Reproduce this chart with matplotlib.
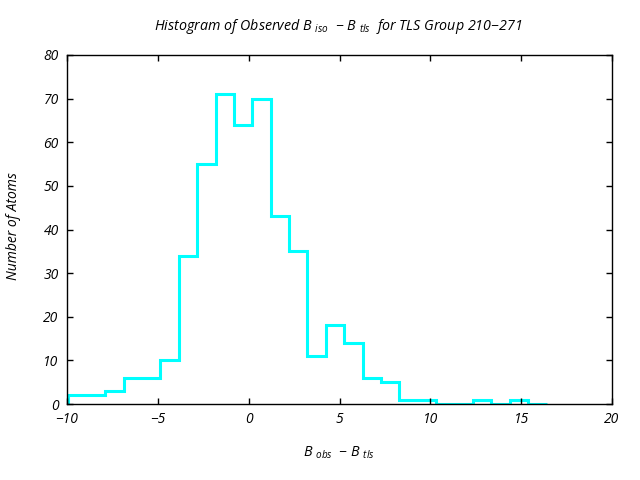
import matplotlib
matplotlib.use("Agg")
import matplotlib.pyplot as plt
import numpy as np

# Data
bin_start = -9.925
bin_width = 1.0125
counts = [2, 2, 3, 6, 6, 10, 34, 55, 71, 64, 70, 43, 35, 11, 18, 14, 6, 5, 1, 1, 0, 0, 1, 0, 1, 0]
edges = bin_start + bin_width * np.arange(len(counts) + 1)

xticks = [-10, -5, 0, 5, 10, 15, 20]
yticks = [0, 10, 20, 30, 40, 50, 60, 70, 80]

plt.rcParams['font.family'] = ['Open Sans', 'DejaVu Sans']
plt.rcParams['font.style'] = 'italic'
plt.rcParams['mathtext.fontset'] = 'custom'
plt.rcParams['mathtext.rm'] = 'Open Sans:italic'
plt.rcParams['mathtext.it'] = 'Open Sans:italic'
plt.rcParams['mathtext.default'] = 'rm'

fig = plt.figure(figsize=(6.4, 4.8), dpi=100)
ax = fig.add_axes([67/640, 1-404/480, (612-67)/640, (404-55)/480])

ax.stairs(counts, edges, color='#00ffff', linewidth=2.2, baseline=0)

ax.set_xlim(-10, 20)
ax.set_ylim(0, 80)
ax.set_xticks(xticks)
ax.set_yticks(yticks)
ax.tick_params(direction='in', length=4, width=1, top=True, right=True,
               labelsize=10, pad=6)
for lab in ax.get_xticklabels() + ax.get_yticklabels():
    lab.set_fontstyle('italic')
for s in ax.spines.values():
    s.set_linewidth(1)

fig.text(338/640, 1-27/480,
         r"Histogram of Observed B $_{iso}$  $-$ B $_{tls}$  for TLS Group 210$-$271",
         ha='center', va='center', fontsize=10.3, style='italic')
fig.text(339/640, 1-453/480, r"B $_{obs}$  $-$ B $_{tls}$", ha='center', va='center',
         fontsize=10.3, style='italic')
fig.text(14/640, 1-226/480, "Number of Atoms", ha='center', va='center',
         rotation=90, fontsize=10, style='italic')

fig.savefig("out.png", dpi=100)
